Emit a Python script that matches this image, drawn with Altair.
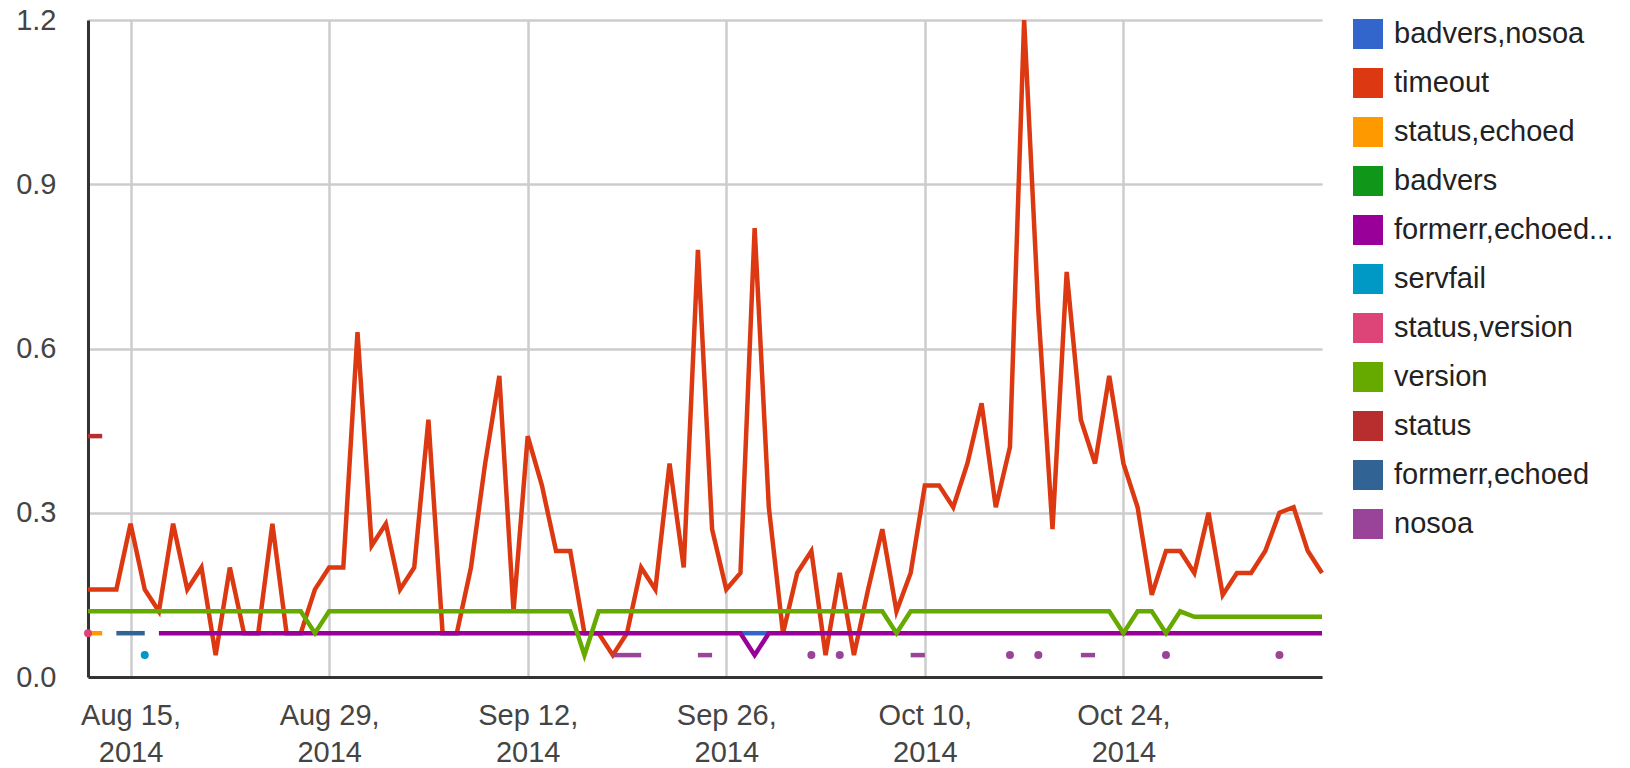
import altair as alt
import pandas as pd

# ---------------- data ----------------
START = "2014-08-12"
N_DAYS = 88
dates = [d.strftime("%Y-%m-%d") for d in pd.date_range(START, periods=N_DAYS, freq="D")]

series_order = ["badvers,nosoa", "timeout", "status,echoed", "badvers",
                "formerr,echoed...", "servfail", "status,version", "version",
                "status", "formerr,echoed", "nosoa"]
palette = ["#3366cc", "#dc3912", "#ff9900", "#109618", "#990099", "#0099c6",
           "#dd4477", "#66aa00", "#b82e2e", "#316395", "#994499"]

timeout = [0.16, 0.16, 0.16, 0.28, 0.16, 0.12, 0.28, 0.16, 0.20, 0.04,
           0.20, 0.08, 0.08, 0.28, 0.08, 0.08, 0.16, 0.20, 0.20, 0.63,
           0.24, 0.28, 0.16, 0.20, 0.47, 0.08, 0.08, 0.20, 0.39, 0.55,
           0.12, 0.44, 0.35, 0.23, 0.23, 0.08, 0.08, 0.04, 0.08, 0.20,
           0.16, 0.39, 0.20, 0.78, 0.27, 0.16, 0.19, 0.82, 0.31, 0.08,
           0.19, 0.23, 0.04, 0.19, 0.04, 0.16, 0.27, 0.12, 0.19, 0.35,
           0.35, 0.31, 0.39, 0.50, 0.31, 0.42, 1.20, 0.67, 0.27, 0.74,
           0.47, 0.39, 0.55, 0.39, 0.31, 0.15, 0.23, 0.23, 0.19, 0.30,
           0.15, 0.19, 0.19, 0.23, 0.30, 0.31, 0.23, 0.19]

version = [0.12, 0.12, 0.12, 0.12, 0.12, 0.12, 0.12, 0.12, 0.12, 0.12,
           0.12, 0.12, 0.12, 0.12, 0.12, 0.12, 0.08, 0.12, 0.12, 0.12,
           0.12, 0.12, 0.12, 0.12, 0.12, 0.12, 0.12, 0.12, 0.12, 0.12,
           0.12, 0.12, 0.12, 0.12, 0.12, 0.04, 0.12, 0.12, 0.12, 0.12,
           0.12, 0.12, 0.12, 0.12, 0.12, 0.12, 0.12, 0.12, 0.12, 0.12,
           0.12, 0.12, 0.12, 0.12, 0.12, 0.12, 0.12, 0.08, 0.12, 0.12,
           0.12, 0.12, 0.12, 0.12, 0.12, 0.12, 0.12, 0.12, 0.12, 0.12,
           0.12, 0.12, 0.12, 0.08, 0.12, 0.12, 0.08, 0.12, 0.11, 0.11,
           0.11, 0.11, 0.11, 0.11, 0.11, 0.11, 0.11, 0.11]

formerr_echoed_more = [None, None, None, None, None, 0.08, 0.08, 0.08, 0.08, 0.08,
                       0.08, 0.08, 0.08, 0.08, 0.08, 0.08, 0.08, 0.08, 0.08, 0.08,
                       0.08, 0.08, 0.08, 0.08, 0.08, 0.08, 0.08, 0.08, 0.08, 0.08,
                       0.08, 0.08, 0.08, 0.08, 0.08, 0.08, 0.08, 0.08, 0.08, 0.08,
                       0.08, 0.08, 0.08, 0.08, 0.08, 0.08, 0.08, 0.04, 0.08, 0.08,
                       0.08, 0.08, 0.08, 0.08, 0.08, 0.08, 0.08, 0.08, 0.08, 0.08,
                       0.08, 0.08, 0.08, 0.08, 0.08, 0.08, 0.08, 0.08, 0.08, 0.08,
                       0.08, 0.08, 0.08, 0.08, 0.08, 0.08, 0.08, 0.08, 0.08, 0.08,
                       0.08, 0.08, 0.08, 0.08, 0.08, 0.08, 0.08, 0.08]

badvers_nosoa_dates = ["2014-09-27", "2014-09-28", "2014-09-29"]
badvers_nosoa_vals = [0.08, 0.08, 0.08]
status_echoed_dates = ["2014-08-12", "2014-08-13"]
status_echoed_vals = [0.08, 0.08]
badvers_dates = []
badvers_vals = []
servfail_dates = ["2014-08-16"]
servfail_vals = [0.04]
status_version_dates = ["2014-08-12"]
status_version_vals = [0.08]
status_dates = ["2014-08-12", "2014-08-13"]
status_vals = [0.44, 0.44]
formerr_echoed_dates = ["2014-08-14", "2014-08-15", "2014-08-16"]
formerr_echoed_vals = [0.08, 0.08, 0.08]
nosoa_dates = ["2014-09-18", "2014-09-19", "2014-09-20", "2014-09-24", "2014-09-25",
               "2014-10-02", "2014-10-04", "2014-10-09", "2014-10-10", "2014-10-16",
               "2014-10-18", "2014-10-21", "2014-10-22", "2014-10-27", "2014-11-04"]
nosoa_vals = [0.04, 0.04, 0.04, 0.04, 0.04, 0.04, 0.04, 0.04, 0.04, 0.04,
              0.04, 0.04, 0.04, 0.04, 0.04]

# ---------------- build long table ----------------
pairs = {
    "badvers,nosoa": list(zip(badvers_nosoa_dates, badvers_nosoa_vals)),
    "timeout": list(zip(dates, timeout)),
    "status,echoed": list(zip(status_echoed_dates, status_echoed_vals)),
    "badvers": list(zip(badvers_dates, badvers_vals)),
    "formerr,echoed...": list(zip(dates, formerr_echoed_more)),
    "servfail": list(zip(servfail_dates, servfail_vals)),
    "status,version": list(zip(status_version_dates, status_version_vals)),
    "version": list(zip(dates, version)),
    "status": list(zip(status_dates, status_vals)),
    "formerr,echoed": list(zip(formerr_echoed_dates, formerr_echoed_vals)),
    "nosoa": list(zip(nosoa_dates, nosoa_vals)),
}

rows = []
t0 = pd.Timestamp(START)
for k, name in enumerate(series_order):
    pts = [(d, v) for d, v in pairs[name] if v is not None]
    seg = 0
    prev = None
    for d, v in pts:
        day = (pd.Timestamp(d) - t0).days
        if prev is not None and day - prev > 1:
            seg += 1
        prev = day
        rows.append({"series": name, "order": k, "date": d, "value": v,
                     "seg": f"{name}-{seg}"})

df = pd.DataFrame(rows)
df["single"] = df.groupby("seg")["seg"].transform("size") == 1
df = df.sort_values(["order", "date"]).reset_index(drop=True)

FONT = "Liberation Sans"


def dt(m, d):
    return alt.DateTime(year=2014, month=m, date=d, utc=True)


x_enc = alt.X(
    "date:T",
    scale=alt.Scale(type="utc", domain=[dt(8, 12), dt(11, 7)], nice=False),
    axis=alt.Axis(
        values=[dt(8, 15), dt(8, 29), dt(9, 12), dt(9, 26), dt(10, 10), dt(10, 24)],
        labelExpr="[utcFormat(datum.value, '%b %d,'), utcFormat(datum.value, '%Y')]",
        labelFontSize=29, labelColor="#444444", labelFont=FONT,
        labelAlign="center", labelBaseline="top", labelPadding=24,
        labelLineHeight=37, ticks=False,
        domainColor="#333333", domainWidth=3,
        gridColor="#cccccc", gridWidth=2.5, title=None,
    ),
)
y_enc = alt.Y(
    "value:Q",
    scale=alt.Scale(domain=[0, 1.2], nice=False, zero=True),
    axis=alt.Axis(
        values=[0, 0.3, 0.6, 0.9, 1.2], format=".1f",
        labelFontSize=29, labelColor="#444444", labelFont=FONT,
        labelPadding=32, ticks=False,
        domainColor="#333333", domainWidth=3,
        gridColor="#cccccc", gridWidth=2.5, title=None,
    ),
)
color_scale = alt.Scale(domain=series_order, range=palette)

lines = alt.Chart(df).mark_line(strokeWidth=4.5, strokeCap="butt", strokeJoin="miter").encode(
    x=x_enc, y=y_enc,
    color=alt.Color("series:N", scale=color_scale, legend=None),
    detail="seg:N",
)

dots = alt.Chart(df).transform_filter("datum.single").mark_circle(size=64, opacity=1).encode(
    x=x_enc, y=y_enc,
    color=alt.Color(
        "series:N", scale=color_scale,
        legend=alt.Legend(
            title=None, orient="none", legendX=1265, legendY=-1,
            symbolType="square", symbolSize=900, symbolStrokeWidth=0,
            symbolOpacity=1, labelFontSize=29, labelColor="#222222",
            labelFont=FONT, rowPadding=19, labelOffset=11, padding=0,
            labelLimit=400,
        ),
    ),
)

chart = alt.layer(lines, dots).resolve_legend(color="independent").properties(
    width=1234, height=657,
    padding={"left": 80, "top": 12, "right": 300, "bottom": 91},
    autosize=alt.AutoSizeParams(type="none"),
).configure(font=FONT).configure_view(stroke="transparent")

chart.save("out.html", embed_options={"renderer": "svg", "actions": False})
